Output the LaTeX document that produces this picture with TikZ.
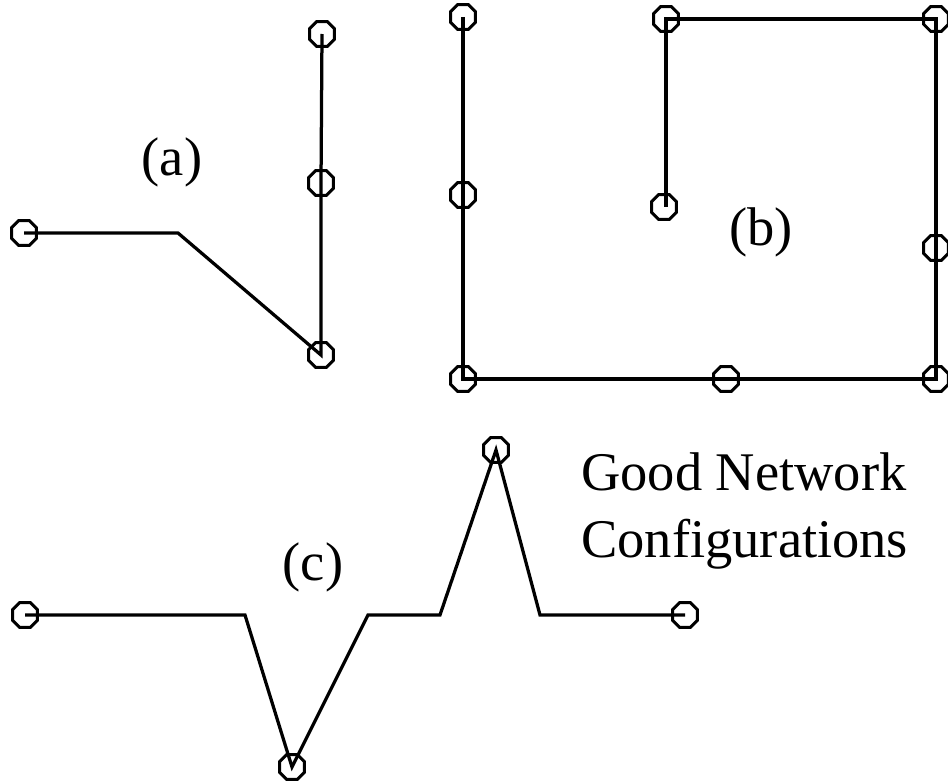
\documentclass[tikz,border=0pt]{standalone}
\usepackage{fontspec}
\setmainfont{Liberation Serif}
\usetikzlibrary{shapes.geometric}
\tikzset{dot/.style={draw,regular polygon,regular polygon sides=8,minimum size=0.54cm,inner sep=0pt,line width=0.06cm},
wire/.style={line width=0.065cm,line join=miter},
lbl/.style={inner sep=0pt,font=\fontsize{31}{38.6}\selectfont}}

\begin{document}
\begin{tikzpicture}[x=0.02cm,y=-0.02cm]
\useasboundingbox (0,0) rectangle (948,784);
% (a)
\node[dot] (a1) at (24,233) {};
\coordinate (ak) at (178,233);
\node[dot] (a2) at (321,355) {};
\node[dot] (a3) at (321,183) {};
\node[dot] (a4) at (322,34) {};
\node[lbl] (la) at (172,162) {(a)};
\draw[wire] (a1.center)--(ak)--(a2.center)--(a3.center)--(a4.center);
% (b)
\node[dot] (b1) at (463,17) {};
\node[dot] (b2) at (463,195) {};
\node[dot] (b3) at (463,379) {};
\node[dot] (b4) at (726,379) {};
\node[dot] (b5) at (936,379) {};
\node[dot] (b6) at (936,248) {};
\node[dot] (b7) at (936,19) {};
\node[dot] (b8) at (666,19) {};
\node[dot] (b9) at (664,207) {};
\node[lbl] (lb) at (761,232) {(b)};
\draw[wire] (b1.center)--(b2.center)--(b3.center)--(b4.center)--(b5.center)--(b6.center)--(b7.center)--(b8.center)--(b8.center|-b9.center);
% (c)
\node[dot] (c1) at (25,615) {};
\coordinate (c1k) at (245,615);
\node[dot] (c2) at (292,767) {};
\coordinate (c2k) at (368,615);
\coordinate (c3k) at (440,615);
\node[dot] (c3) at (496,450) {};
\coordinate (c4k) at (540,615);
\node[dot] (c4) at (685,615) {};
\node[lbl] (lc) at (313,567) {(c)};
\draw[wire] (c1.center)--(c1k)--(c2.center)--(c2k)--(c3k)--(c3.center)--(c4k)--(c4.center);
% title
\node[lbl,align=left,anchor=north west] (title) at (581,452) {Good Network\\Configurations};
\end{tikzpicture}
\end{document}
